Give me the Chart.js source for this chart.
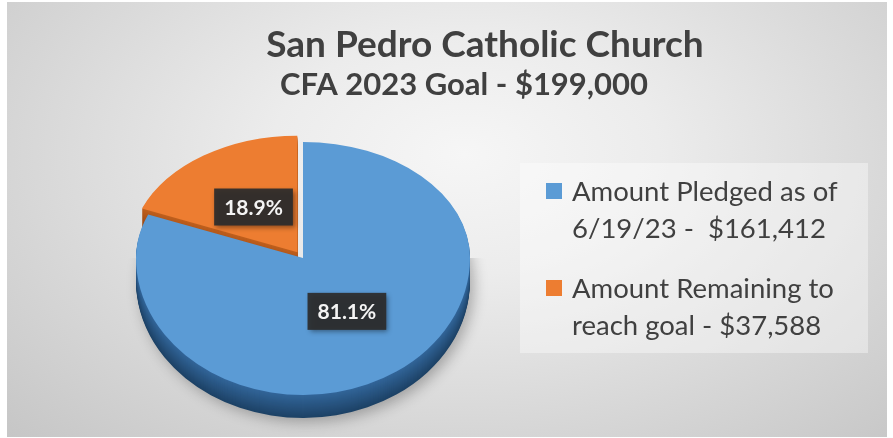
<!DOCTYPE html>
<html>
<head>
<meta charset="utf-8">
<script src="https://cdn.jsdelivr.net/npm/chart.js@4.4.0/dist/chart.umd.min.js"></script>
<style>
  html, body { margin: 0; padding: 0; background: #fff; }
  #wrap { position: relative; width: 893px; height: 438px; overflow: hidden; }
  #bg {
    position: absolute; left: 7px; top: 2px; width: 880px; height: 435px;
    background: radial-gradient(ellipse at 52% 35%, #f6f6f6 0%, #ececec 30%, #d6d6d6 70%, #c6c6c6 100%);
  }
  canvas { position: absolute; left: 0; top: 0; }
</style>
</head>
<body>
<div id="wrap">
  <div id="bg"></div>
  <canvas id="myChart" width="893" height="438"></canvas>
</div>
<script>
// данные графика
const titleText = "San Pedro Catholic Church";
const subtitleText = "CFA 2023 Goal - $199,000";
const labels = [
  ["Amount Pledged as of", "6/19/23 -  $161,412"],
  ["Amount Remaining to", "reach goal - $37,588"],
];
const values = [161412, 37588];
const topColors = ["#5b9bd5", "#ed7d31"];
const sideColors = [["#33669a", "#1d4266"], ["#c0601e", "#8a4012"]];

// наклон "3D" пирога и толщина бортика
const tiltTop = 0.695;
const tiltBottom = 0.82;
const depth = 23;
const labelRadius = 0.47;
const textColor = "#404040";

function mix(a, b, t) {
  const pa = [1, 3, 5].map((i) => parseInt(a.substr(i, 2), 16));
  const pb = [1, 3, 5].map((i) => parseInt(b.substr(i, 2), 16));
  const c = pa.map((v, i) => Math.round(v + (pb[i] - v) * t));
  return "rgb(" + c.join(",") + ")";
}

function squish(ctx, cy, k, dy) {
  ctx.translate(0, cy + dy);
  ctx.scale(1, k);
  ctx.translate(0, -cy);
}

const pie3d = {
  id: "pie3d",
  beforeDatasetsDraw(chart) {
    const ctx = chart.ctx;
    const meta = chart.getDatasetMeta(0);
    const cy = meta.data[0].y;
    const halves = [
      { k: tiltTop, y0: 0, y1: cy },
      { k: tiltBottom, y0: cy, y1: chart.height },
    ];
    halves.forEach((h, hi) => {
      ctx.save();
      ctx.beginPath();
      ctx.rect(0, h.y0, chart.width, h.y1 - h.y0);
      ctx.clip();
      // бортик
      for (let d = depth; d >= 1; d--) {
        meta.data.forEach((arc, i) => {
          ctx.save();
          if (d === depth && hi === 1) {
            ctx.shadowColor = "rgba(0,0,0,0.28)";
            ctx.shadowBlur = 14;
            ctx.shadowOffsetX = 4;
            ctx.shadowOffsetY = 4;
          }
          squish(ctx, cy, h.k, d);
          const saved = arc.options;
          arc.options = Object.assign({}, saved, {
            backgroundColor: mix(sideColors[i][0], sideColors[i][1], d / depth),
            borderWidth: 0,
          });
          arc.draw(ctx);
          arc.options = saved;
          ctx.restore();
        });
      }
      // верх
      squish(ctx, cy, h.k, 0);
      meta.controller.draw();
      ctx.restore();
    });
    return false;
  },
};

const texts = {
  id: "texts",
  afterDraw(chart) {
    const ctx = chart.ctx;
    const meta = chart.getDatasetMeta(0);
    const total = values.reduce((a, b) => a + b, 0);

    // подписи долей
    meta.data.forEach((arc, i) => {
      const mid = (arc.startAngle + arc.endAngle) / 2;
      const r = arc.outerRadius * labelRadius + (arc.options.offset || 0) / 4;
      const x = arc.x + Math.cos(mid) * r;
      let y = arc.y + Math.sin(mid) * r;
      y = arc.y + (y - arc.y) * (y < arc.y ? tiltTop : tiltBottom);
      const text = ((values[i] / total) * 100).toFixed(1) + "%";
      ctx.font = "bold 21px Lato";
      const w = ctx.measureText(text).width + 20;
      const hgt = 37;
      ctx.save();
      ctx.shadowColor = "rgba(0,0,0,0.45)";
      ctx.shadowBlur = 5;
      ctx.shadowOffsetX = 2;
      ctx.shadowOffsetY = 2;
      ctx.fillStyle = "rgba(44,44,44,0.93)";
      ctx.fillRect(x - w / 2, y - hgt / 2, w, hgt);
      ctx.restore();
      ctx.fillStyle = "#f4f4f4";
      ctx.textAlign = "center";
      ctx.textBaseline = "middle";
      ctx.fillText(text, x, y + 1);
    });

    // заголовок
    ctx.fillStyle = textColor;
    ctx.textAlign = "center";
    ctx.textBaseline = "alphabetic";
    ctx.font = "bold 37px Lato";
    ctx.fillText(titleText, 485, 57);
    ctx.font = "bold 31px Lato";
    ctx.fillText(subtitleText, 464, 95);

    // легенда
    ctx.fillStyle = "rgba(255,255,255,0.38)";
    ctx.fillRect(520, 163, 348, 190);
    ctx.font = "27.5px Lato";
    ctx.textAlign = "left";
    labels.forEach((lines, i) => {
      const top = 183 + i * 97;
      ctx.fillStyle = topColors[i];
      ctx.fillRect(546, top, 16, 16);
      ctx.fillStyle = textColor;
      lines.forEach((line, j) => {
        ctx.fillText(line, 572, top + 18 + j * 37);
      });
    });
  },
};

const ctx = document.getElementById("myChart").getContext("2d");

let myChart = new Chart(ctx, {
  type: "pie",
  data: {
    labels: labels,
    datasets: [
      {
        data: values,
        backgroundColor: topColors,
        borderWidth: 0,
        offset: [0, 40],
      },
    ],
  },
  options: {
    responsive: false,
    animation: false,
    devicePixelRatio: 1,
    radius: 167,
    layout: {
      padding: { left: 0, right: 287, top: 78, bottom: 0 },
    },
    plugins: {
      legend: { display: false },
      title: { display: false },
      tooltip: { enabled: false },
    },
  },
  plugins: [pie3d, texts],
});
</script>
</body>
</html>
